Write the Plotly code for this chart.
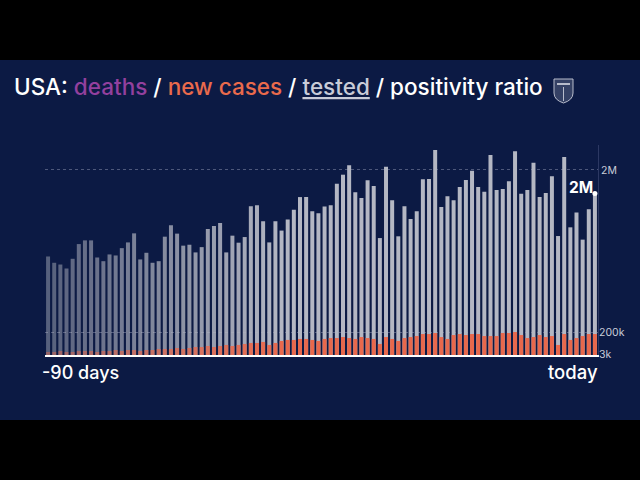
import plotly.graph_objects as go

# ---------------- data ----------------
days = list(range(-89, 1))  # 90 days, last one = today

tested_k = [1065, 997, 978, 935, 1040, 1199, 1239, 1239, 1054, 1014,
            1087, 1076, 1155, 1217, 1315, 1033, 1105, 997, 1014, 1279,
            1402, 1312, 1182, 1192, 1109, 1166, 1362, 1395, 1427, 1109,
            1290, 1214, 1275, 1609, 1620, 1446, 1217, 1446, 1345, 1464,
            1569, 1707, 1707, 1554, 1533, 1605, 1620, 1851, 1949, 2051,
            1758, 1696, 1888, 1826, 1264, 2036, 1674, 1283, 1609, 1471,
            1554, 1899, 1902, 2217, 1601, 1717, 1674, 1815, 1891, 1992,
            1815, 1764, 2163, 1783, 1794, 1877, 2203, 1742, 1783, 2079,
            1707, 1750, 1932, 1286, 2141, 1380, 1540, 1247, 1576, 1747]

cases_k = [27, 27, 36, 27, 27, 36, 36, 36, 27, 36,
           36, 45, 36, 45, 45, 36, 45, 45, 54, 54,
           54, 63, 54, 63, 72, 72, 81, 72, 81, 90,
           81, 90, 99, 108, 108, 117, 90, 108, 126, 135,
           135, 144, 144, 135, 126, 144, 152, 152, 161, 152,
           144, 161, 152, 144, 99, 161, 144, 126, 152, 161,
           170, 188, 188, 197, 161, 144, 179, 188, 179, 188,
           188, 170, 170, 170, 197, 197, 206, 179, 152, 161,
           179, 161, 170, 90, 188, 135, 152, 170, 188, 188]

tested = [v * 1000 for v in tested_k]
cases = [v * 1000 for v in cases_k]

tested_ticks = [2_000_000]
tested_ticktext = ["2M"]
cases_ticks = [3_000, 200_000]
cases_ticktext = ["3k", "200k"]

# ---------------- style ----------------
NAVY = "#0c1a44"
GRAY = (180, 183, 195)
ORANGE = (232, 104, 76)
FONT = "Inter"

n = len(days)
alphas = [min(1.0, 0.45 + 0.55 * i / 38) for i in range(n)]
gray_cols = [f"rgba({GRAY[0]},{GRAY[1]},{GRAY[2]},{a:.3f})" for a in alphas]
orange_cols = [f"rgba({ORANGE[0]},{ORANGE[1]},{ORANGE[2]},{a:.3f})" for a in alphas]

# plot area in pixels
L, R, T, B = 45, 598, 145, 355
W, H = 640, 480


def px(x):
    return (x - L) / (R - L)


def py(y):
    return (B - y) / (B - T)


fig = go.Figure()
fig.add_trace(go.Bar(x=days, y=tested, marker=dict(color=gray_cols, line_width=0),
                     yaxis="y", hoverinfo="skip"))
fig.add_trace(go.Bar(x=days, y=cases, marker=dict(color=orange_cols, line_width=0),
                     yaxis="y2", hoverinfo="skip"))
fig.add_trace(go.Scatter(x=[days[-1]], y=[tested[-1]], mode="markers",
                         marker=dict(color="white", size=5), yaxis="y",
                         hoverinfo="skip"))

last_label = f"{round(tested[-1] / 1_000_000)}M"

title_html = ("USA: <span style='color:#93409e'>deaths</span> / "
              "<span style='color:#ea6a4c'>new cases</span> / "
              "<span style='color:#c9ccd8'><u>tested</u></span> / positivity ratio")

shield = (f"M {px(554)},{py(79)} L {px(573)},{py(79)} L {px(573)},{py(93)} "
          f"Q {px(573)},{py(100)} {px(563.5)},{py(103)} "
          f"Q {px(554)},{py(100)} {px(554)},{py(93)} Z")
shield_band = f"M {px(557)},{py(84)} L {px(570)},{py(84)}"
shield_div = f"M {px(563.5)},{py(87)} L {px(563.5)},{py(101)}"

fig.update_layout(
    width=W, height=H,
    margin=dict(l=L, r=W - R, t=T, b=H - B, pad=0),
    paper_bgcolor="#000000",
    plot_bgcolor="rgba(0,0,0,0)",
    barmode="overlay",
    bargap=0.35,
    showlegend=False,
    font=dict(family=FONT, color="white"),
    xaxis=dict(range=[days[0] - 0.5, days[-1] + 0.5], showticklabels=False,
               showgrid=False, zeroline=False, showline=True,
               linecolor="white", linewidth=2, ticks=""),
    yaxis=dict(range=[0, 2_270_000], side="right", tickvals=tested_ticks,
               ticktext=tested_ticktext, showgrid=True, griddash="dot",
               gridcolor="rgba(160,165,190,0.45)", gridwidth=1, zeroline=False,
               showline=True, linecolor="#2c3863", linewidth=1, ticks="",
               tickfont=dict(size=10.5, color="#c9ccd8", family=FONT)),
    yaxis2=dict(range=[0, 1_883_000], side="right", overlaying="y",
                tickvals=cases_ticks, ticktext=cases_ticktext, showgrid=True,
                griddash="dot", gridcolor="rgba(160,165,190,0.45)", gridwidth=1,
                zeroline=False, showline=False, ticks="",
                tickfont=dict(size=10.5, color="#c9ccd8", family=FONT)),
    shapes=[
        dict(type="rect", xref="paper", yref="paper", x0=px(0), x1=px(W),
             y0=py(420), y1=py(60), fillcolor=NAVY, line_width=0, layer="below"),
        dict(type="path", xref="paper", yref="paper", path=shield,
             fillcolor="rgba(150,156,180,0.30)", line=dict(color="#b8bccb", width=1)),
        dict(type="path", xref="paper", yref="paper", path=shield_band,
             line=dict(color="#b8bccb", width=2)),
        dict(type="path", xref="paper", yref="paper", path=shield_div,
             line=dict(color="#b8bccb", width=1)),
    ],
    annotations=[
        dict(xref="paper", yref="paper", x=px(12), y=py(86), xanchor="left",
             yanchor="middle", showarrow=False, text=title_html,
             font=dict(size=22.5, color="white", family=FONT, weight=500)),
        dict(xref="paper", yref="paper", x=px(40), y=py(372), xanchor="left",
             yanchor="middle", showarrow=False, text="-90 days",
             font=dict(size=18, color="white", family=FONT, weight=500)),
        dict(xref="paper", yref="paper", x=px(600), y=py(372), xanchor="right",
             yanchor="middle", showarrow=False, text="today",
             font=dict(size=18.5, color="white", family=FONT, weight=500)),
        dict(x=days[-1], y=tested[-1], xref="x", yref="y", xanchor="right",
             yanchor="bottom", xshift=0, yshift=-6, showarrow=False,
             text=f"<b>{last_label}</b>",
             font=dict(size=15.5, color="white", family=FONT)),
    ],
)

fig.write_html("out.html", config={"displayModeBar": False})
